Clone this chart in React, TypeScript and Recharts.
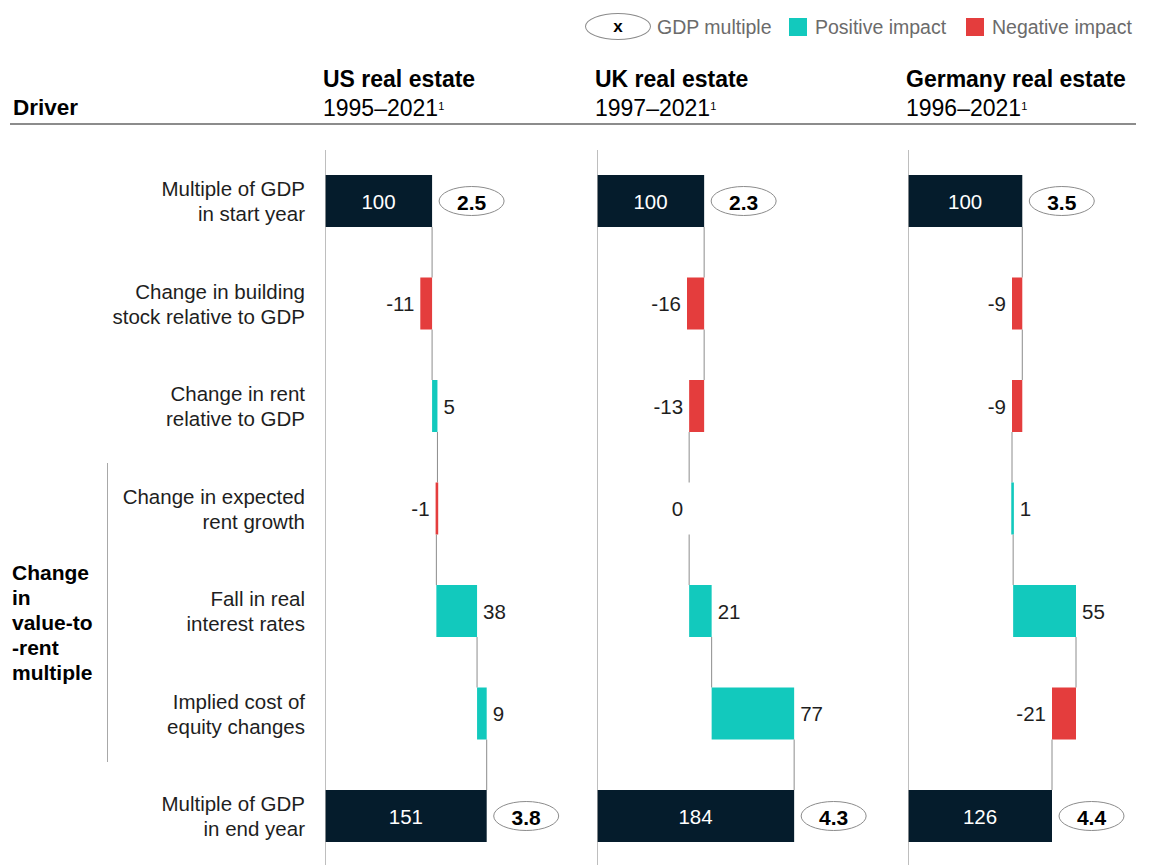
import React from 'react';
import { BarChart, Bar, XAxis, YAxis, ReferenceLine } from 'recharts';

// Drivers, top to bottom
const driverKeys = ['start', 'stock', 'rent', 'growth', 'rates', 'equity', 'end'];
const driverLines = [
  ['Multiple of GDP', 'in start year'],
  ['Change in building', 'stock relative to GDP'],
  ['Change in rent', 'relative to GDP'],
  ['Change in expected', 'rent growth'],
  ['Fall in real', 'interest rates'],
  ['Implied cost of', 'equity changes'],
  ['Multiple of GDP', 'in end year'],
];
const groupLines = ['Change', 'in', 'value-to', '-rent', 'multiple'];

// US real estate, 1995-2021
const usValues = [100, -11, 5, -1, 38, 9, 151];
const usLow = [0, 89, 100, 104, 104, 142, 0];
const usHigh = [100, 100, 105, 105, 142, 151, 151];
const usLink = [100, 100, 105, 104, 142, 151];
const usMultiple = [2.5, 3.8];

// UK real estate, 1997-2021
const ukValues = [100, -16, -13, 0, 21, 77, 184];
const ukLow = [0, 84, 86, 86, 86, 107, 0];
const ukHigh = [100, 100, 100, 86, 107, 184, 184];
const ukLink = [100, 100, 86, 86, 107, 184];
const ukMultiple = [2.3, 4.3];

// Germany real estate, 1996-2021
const deValues = [100, -9, -9, 1, 55, -21, 126];
const deLow = [0, 91, 91, 91, 92, 126, 0];
const deHigh = [100, 100, 100, 92, 147, 147, 126];
const deLink = [100, 100, 91, 92, 147, 126];
const deMultiple = [3.5, 4.4];

const NAVY = '#051c2c';
const TEAL = '#12c9bd';
const RED = '#e43d3d';
const INK = '#1e1e1e';
const FONT = '"Liberation Sans", Arial, sans-serif';

const TOP = 150;
const BAND = 102.5;
const BAR = 52;

const buildRows = (values: number[], low: number[], high: number[], link: number[], mult: number[]) =>
  driverKeys.map((key, i) => {
    const total = i === 0 || i === driverKeys.length - 1;
    return {
      key,
      range: [low[i], high[i]],
      lo: low[i],
      value: values[i],
      link: i < link.length ? link[i] : null,
      kind: total ? 'total' : values[i] < 0 ? 'neg' : values[i] > 0 ? 'pos' : 'zero',
      multiple: i === 0 ? mult[0] : total ? mult[1] : null,
    };
  });

const panels = [
  { title: 'US real estate', period: '1995–2021', left: 325, width: 257, max: 240, rows: buildRows(usValues, usLow, usHigh, usLink, usMultiple) },
  { title: 'UK real estate', period: '1997–2021', left: 597, width: 300, max: 280, rows: buildRows(ukValues, ukLow, ukHigh, ukLink, ukMultiple) },
  { title: 'Germany real estate', period: '1996–2021', left: 908, width: 240, max: 210, rows: buildRows(deValues, deLow, deHigh, deLink, deMultiple) },
];

const Step = (props: any) => {
  const { x, y, width, height, payload, k } = props;
  const p = payload;
  const cy = y + height / 2;
  let bx = x;
  let bw = width;
  if (p.kind !== 'total' && p.kind !== 'zero' && bw < 2.6) {
    bx = x + bw / 2 - 1.3;
    bw = 2.6;
  }
  const fill = p.kind === 'total' ? NAVY : p.kind === 'neg' ? RED : TEAL;
  const linkX = p.link != null ? x + (p.link - p.lo) * k : null;
  return (
    <g>
      {bw > 0 && <rect x={bx} y={y} width={bw} height={height} fill={fill} />}
      {linkX != null && (
        <line x1={linkX} x2={linkX} y1={y + height} y2={y + height + (BAND - BAR)} stroke="#8c8c8c" strokeWidth={1} />
      )}
      {p.kind === 'total' && (
        <>
          <text x={x + width / 2} y={cy} fill="#fff" fontSize={20.5} fontFamily={FONT} textAnchor="middle" dominantBaseline="central">
            {p.value}
          </text>
          <ellipse cx={x + width + 7 + 32.5} cy={cy} rx={32.5} ry={14.5} fill="#fff" stroke="#8c8c8c" strokeWidth={1} />
          <text x={x + width + 7 + 32.5} y={cy + 1} fill="#000" fontSize={21} fontWeight={700} fontFamily={FONT} textAnchor="middle" dominantBaseline="central">
            {p.multiple.toFixed(1)}
          </text>
        </>
      )}
      {p.kind === 'pos' && (
        <text x={bx + bw + 6} y={cy} fill={INK} fontSize={20.5} fontFamily={FONT} textAnchor="start" dominantBaseline="central">
          {p.value}
        </text>
      )}
      {(p.kind === 'neg' || p.kind === 'zero') && (
        <text x={bx - 6} y={cy} fill={INK} fontSize={20.5} fontFamily={FONT} textAnchor="end" dominantBaseline="central">
          {p.value}
        </text>
      )}
    </g>
  );
};

const Panel = ({ panel }: { panel: (typeof panels)[number] }) => {
  const k = panel.width / panel.max;
  return (
    <div style={{ position: 'absolute', left: panel.left, top: TOP }}>
      <BarChart
        layout="vertical"
        width={panel.width}
        height={BAND * 7}
        data={panel.rows}
        margin={{ top: 0, right: 0, bottom: 0, left: 0 }}
      >
        <XAxis type="number" hide domain={[0, panel.max]} />
        <YAxis type="category" dataKey="key" hide />
        <ReferenceLine x={0} stroke="#a8a8a8" strokeWidth={1.5} />
        <Bar
          dataKey="range"
          barSize={BAR}
          isAnimationActive={false}
          shape={(props: any) => <Step {...props} k={k} />}
        />
      </BarChart>
    </div>
  );
};

export default function App() {
  return (
    <div
      style={{
        position: 'absolute',
        left: 0,
        top: 0,
        width: 1152,
        height: 865,
        overflow: 'hidden',
        background: '#fff',
        fontFamily: FONT,
        color: INK,
      }}
    >
      {/* legend */}
      <div style={{ position: 'absolute', left: 585, top: 13, width: 66, height: 27, border: '1px solid #8c8c8c', borderRadius: '50%', boxSizing: 'border-box', display: 'flex', alignItems: 'center', justifyContent: 'center', fontWeight: 700, fontSize: 17, color: '#000' }}>
        x
      </div>
      <div style={{ position: 'absolute', left: 657, top: 15, fontSize: 19.5, color: '#6b6b6b', lineHeight: '24px' }}>GDP multiple</div>
      <div style={{ position: 'absolute', left: 789, top: 18, width: 18, height: 18, background: TEAL }} />
      <div style={{ position: 'absolute', left: 815, top: 15, fontSize: 19.5, color: '#6b6b6b', lineHeight: '24px' }}>Positive impact</div>
      <div style={{ position: 'absolute', left: 966, top: 18, width: 18, height: 18, background: RED }} />
      <div style={{ position: 'absolute', left: 992, top: 15, fontSize: 19.5, color: '#6b6b6b', lineHeight: '24px' }}>Negative impact</div>

      {/* header */}
      <div style={{ position: 'absolute', left: 13, top: 94, fontSize: 22.5, fontWeight: 700, lineHeight: '28px', color: '#000' }}>Driver</div>
      {panels.map((p) => (
        <div key={p.title} style={{ position: 'absolute', left: p.left - 2, top: 65, lineHeight: '29px', color: '#000' }}>
          <div style={{ fontSize: 23, fontWeight: 700 }}>{p.title}</div>
          <div style={{ fontSize: 23 }}>
            {p.period}
            <sup style={{ fontSize: 11, verticalAlign: 'top', position: 'relative', top: -2 }}>1</sup>
          </div>
        </div>
      ))}
      <div style={{ position: 'absolute', left: 10, top: 123, width: 1126, height: 1.5, background: '#8c8c8c' }} />

      {/* row labels */}
      {driverLines.map((lines, i) => (
        <div
          key={driverKeys[i]}
          style={{
            position: 'absolute',
            left: 0,
            width: 305,
            top: TOP + BAND * i,
            height: BAND,
            display: 'flex',
            flexDirection: 'column',
            justifyContent: 'center',
            alignItems: 'flex-end',
            fontSize: 20.5,
            lineHeight: '25px',
            color: INK,
          }}
        >
          {lines.map((l) => (
            <div key={l}>{l}</div>
          ))}
        </div>
      ))}

      {/* group bracket */}
      <div style={{ position: 'absolute', left: 106.5, top: 463, width: 1.5, height: 299, background: '#a8a8a8' }} />
      <div style={{ position: 'absolute', left: 12, top: 560, fontSize: 21, fontWeight: 700, lineHeight: '25px', color: '#000' }}>
        {groupLines.map((l) => (
          <div key={l}>{l}</div>
        ))}
      </div>

      {panels.map((p) => (
        <Panel key={p.title} panel={p} />
      ))}
    </div>
  );
}
